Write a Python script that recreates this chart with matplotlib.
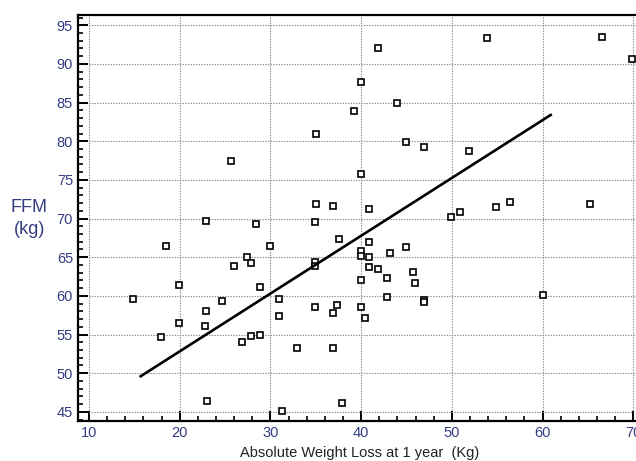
import matplotlib
matplotlib.use('Agg')
import matplotlib.pyplot as plt
from matplotlib.ticker import MultipleLocator

plt.rcParams['font.family'] = ['Liberation Sans', 'DejaVu Sans']

# absolute weight loss at 1 year (kg)
weight_loss = [14.9, 17.9, 18.5, 19.9, 19.9, 22.9, 22.9, 22.8, 23.0, 24.7,
               25.7, 26.0, 26.9, 27.4, 27.9, 27.9, 28.4, 28.9, 28.9, 30.0,
               30.9, 30.9, 31.3, 32.9, 35.0, 35.0, 34.9, 34.9, 34.9, 34.9,
               36.9, 36.9, 36.9, 37.3, 37.6, 37.9, 39.2, 40.0, 40.0, 40.0,
               40.0, 40.0, 40.0, 40.4, 40.9, 40.9, 40.9, 40.9, 41.9, 41.9,
               42.9, 42.9, 43.2, 44.0, 44.9, 44.9, 45.7, 45.9, 46.9, 46.9,
               46.9, 49.9, 50.9, 51.9, 53.9, 54.9, 56.4, 60.0, 65.2, 66.6,
               69.9]
# fat free mass (kg)
ffm = [59.6, 54.7, 66.5, 61.4, 56.5, 69.7, 58.1, 56.1, 46.4, 59.3,
       77.5, 63.9, 54.0, 65.0, 64.3, 54.8, 69.3, 61.1, 55.0, 66.5,
       59.6, 57.4, 45.1, 53.3, 81.0, 71.9, 69.6, 64.4, 63.9, 58.6,
       71.6, 57.8, 53.3, 58.8, 67.3, 46.2, 83.9, 87.7, 75.8, 65.8,
       65.2, 62.0, 58.5, 57.1, 71.2, 67.0, 65.0, 63.7, 92.1, 63.5,
       62.3, 59.8, 65.6, 85.0, 79.9, 66.3, 63.1, 61.7, 79.2, 59.5,
       59.2, 70.2, 70.8, 78.7, 93.3, 71.5, 72.2, 60.1, 71.9, 93.5,
       90.6]

# regression line end points
fit_x = [15.7, 60.9]
fit_y = [49.6, 83.4]

navy = '#343c80'

fig = plt.figure(figsize=(6.36, 4.61), dpi=100)
ax = fig.add_axes([0.1226, 0.0874, 0.8873, 0.8807])

ax.plot(weight_loss, ffm, 's', ms=4.6, mfc='white', mec='black', mew=1.2,
        zorder=3, clip_on=False)
ax.plot(fit_x, fit_y, '-', color='black', lw=1.9, zorder=4)

ax.set_xlim(8.79, 71)
ax.set_ylim(43.85, 96.37)

ax.xaxis.set_major_locator(MultipleLocator(10))
ax.xaxis.set_minor_locator(MultipleLocator(2))
ax.yaxis.set_major_locator(MultipleLocator(5))
ax.yaxis.set_minor_locator(MultipleLocator(1))

ax.grid(True, which='major', ls=(0, (1.2, 1.2)), color='#8a8a8a', lw=0.8)
ax.set_axisbelow(True)

for side in ['left', 'bottom', 'top']:
    ax.spines[side].set_linewidth(1.6)
ax.spines['right'].set_visible(False)

ax.tick_params(which='major', direction='in', length=7.5, width=1.4,
               labelsize=10.5, labelcolor=navy, pad=3.5)
ax.tick_params(which='minor', direction='in', length=3.8, width=1.2)

fig.text(0.046, 0.55, 'FFM', ha='center', va='center', fontsize=13, color=navy)
fig.text(0.046, 0.503, '(kg)', ha='center', va='center', fontsize=13, color=navy)
fig.text(0.566, 0.008, 'Absolute Weight Loss at 1 year  (Kg)', ha='center',
         va='baseline', fontsize=10.5, color='#222222')

fig.savefig('out.png', dpi=100)
